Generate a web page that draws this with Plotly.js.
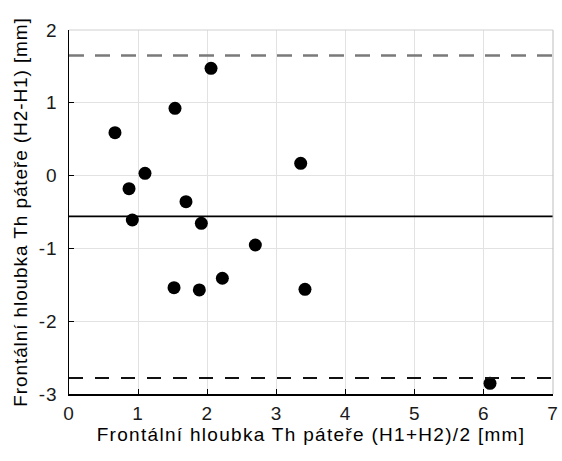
<!DOCTYPE html>
<html>
<head>
<meta charset="utf-8">
<script src="https://cdn.plot.ly/plotly-3.0.1.min.js"></script>
<style>
html,body{margin:0;padding:0;background:#fff;}
#chart{width:562px;height:461px;}
#chart .xtitle { letter-spacing: 1.3px; }
#chart .ytitle { letter-spacing: 0.9px; }
#chart .xtick text, #chart .ytick text { letter-spacing: 1px; }
</style>
</head>
<body>
<div id="chart"></div>
<script>
var meanXY = [0.665, 2.054, 1.533, 3.351, 1.099, 0.868, 1.692, 0.916, 1.914, 2.695, 1.519, 1.885, 2.218, 3.413, 6.089];
var diffXY = [0.59, 1.474, 0.924, 0.169, 0.031, -0.18, -0.358, -0.61, -0.656, -0.953, -1.54, -1.571, -1.41, -1.562, -2.853];
var meanDiff = -0.56;
var upperLoA = 1.65;
var lowerLoA = -2.78;
var xTicks = [0, 1, 2, 3, 4, 5, 6, 7];
var yTicks = [-3, -2, -1, 0, 1, 2];
var xTitle = 'Frontální hloubka Th páteře (H1+H2)/2 [mm]';
var yTitle = 'Frontální hloubka Th páteře (H2-H1) [mm]';

var fontFam = 'Liberation Sans, Arial, sans-serif';
var trace = {
  x: meanXY, y: diffXY, type: 'scatter', mode: 'markers',
  marker: {color: '#000', size: 13},
  showlegend: false, hoverinfo: 'skip'
};
var layout = {
  width: 562, height: 461,
  margin: {l: 69, r: 9, t: 30, b: 67},
  paper_bgcolor: '#fff', plot_bgcolor: '#fff',
  font: {family: fontFam, color: '#000', size: 19},
  xaxis: {
    range: [0, 7], tickvals: xTicks, ticktext: xTicks.map(String),
    ticks: 'inside', ticklen: 5, tickcolor: '#000', tickwidth: 1,
    showline: true, linecolor: '#000', linewidth: 1.5, mirror: false,
    showgrid: true, gridcolor: '#e2e2e2', gridwidth: 1, zeroline: false,
    tickfont: {size: 19, color: '#1a1a1a'}, ticklabelstandoff: 2,
    title: {text: xTitle, font: {size: 19, color: '#000'}, standoff: 2}
  },
  yaxis: {
    range: [-3, 2], tickvals: yTicks, ticktext: yTicks.map(String),
    ticks: 'inside', ticklen: 5, tickcolor: '#000', tickwidth: 1,
    showline: true, linecolor: '#000', linewidth: 1.5, mirror: false,
    showgrid: true, gridcolor: '#e2e2e2', gridwidth: 1, zeroline: false,
    tickfont: {size: 19, color: '#1a1a1a'}, ticklabelstandoff: 6,
    title: {text: yTitle, font: {size: 19, color: '#000'}, standoff: 8}
  },
  shapes: [
    {type: 'line', xref: 'paper', x0: 0, x1: 1, yref: 'y', y0: upperLoA, y1: upperLoA,
     line: {color: '#7a7a7a', width: 2.5, dash: '15px,11px'}},
    {type: 'line', xref: 'paper', x0: 0, x1: 1, yref: 'y', y0: meanDiff, y1: meanDiff,
     line: {color: '#000', width: 1.7}},
    {type: 'line', xref: 'paper', x0: 0, x1: 1, yref: 'y', y0: lowerLoA, y1: lowerLoA,
     line: {color: '#111', width: 2, dash: '14px,12px'}},
    {type: 'line', xref: 'paper', yref: 'paper', x0: 1, x1: 1, y0: 0, y1: 1,
     line: {color: '#bdbdbd', width: 1}},
    {type: 'line', xref: 'paper', yref: 'paper', x0: 0, x1: 1, y0: 1, y1: 1,
     line: {color: '#d0d0d0', width: 1}}
  ]
};
Plotly.newPlot('chart', [trace], layout, {displayModeBar: false, staticPlot: true});
</script>
</body>
</html>
